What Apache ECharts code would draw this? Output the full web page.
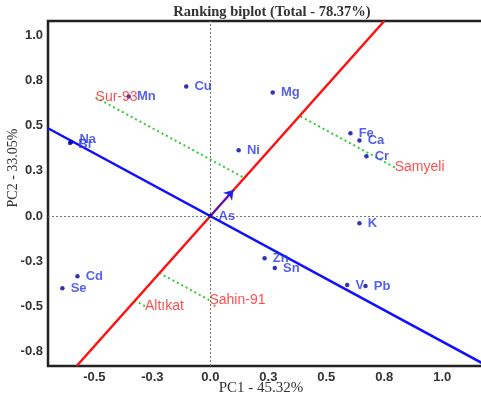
<!DOCTYPE html>
<html><head><meta charset="utf-8">
<script src="https://cdn.jsdelivr.net/npm/echarts@6/dist/echarts.min.js"></script>
<style>html,body{margin:0;padding:0;background:#fff}#c{width:481px;height:397px}</style>
</head><body><div id="c"></div>
<script>
// Element (tester) markers
const elementNames = ['Cu','Mn','Na','Bi','Ni','Mg','Fe','Ca','Cr','As','K','Zn','Sn','V','Pb','Cd','Se'];
const elementPC1 = [-0.104,-0.352,-0.600,-0.605,0.122,0.269,0.604,0.643,0.673,0.000,0.643,0.234,0.278,0.590,0.669,-0.573,-0.638];
const elementPC2 = [0.717,0.662,0.410,0.404,0.364,0.684,0.458,0.419,0.331,0.000,-0.040,-0.233,-0.288,-0.382,-0.387,-0.333,-0.399];
// Genotype markers
const genotypeNames = ['Sur-93','Samyeli','Altıkat','Şahin-91'];
const genotypePC1 = [-0.495,0.795,-0.282,-0.004];
const genotypePC2 = [0.657,0.270,-0.498,-0.465];
// Average-environment axis
const aecSlope = 1.44;
const aecArrowPC1 = 0.1;
// Axis ticks
const xTickValues = [-0.5,-0.25,0,0.25,0.5,0.75,1.0];
const xTickLabels = ['-0.5','-0.3','0.0','0.3','0.5','0.8','1.0'];
const yTickValues = [-0.75,-0.5,-0.25,0,0.25,0.5,0.75,1.0];
const yTickLabels = ['-0.8','-0.5','-0.3','0.0','0.3','0.5','0.8','1.0'];

const X_MIN=-0.70, X_MAX=1.18, Y_MIN=-0.83, Y_MAX=1.08;
const labelOffsets = {Na:[0,-3], Bi:[0,1]};

const chart = echarts.init(document.getElementById('c'));
const fmt = (vals, labs) => v => { const i = vals.findIndex(t => Math.abs(t - v) < 1e-9); return i >= 0 ? labs[i] : ''; };

const redLine = [[Y_MIN / aecSlope, Y_MIN], [Y_MAX / aecSlope, Y_MAX]];
const perp = -1 / aecSlope;
const blueLine = [[X_MIN, X_MIN * perp], [X_MAX, X_MAX * perp]];
const ux = 1 / Math.sqrt(1 + aecSlope * aecSlope), uy = aecSlope * ux;

const greenSeries = genotypeNames.map((n, i) => {
  const d = genotypePC1[i] * ux + genotypePC2[i] * uy;
  return {
    type: 'line', silent: true, symbol: 'none', z: 2,
    lineStyle: {color: '#33cc33', width: 2, type: [2, 3]},
    data: [[genotypePC1[i], genotypePC2[i]], [d * ux, d * uy]]
  };
});

chart.setOption({
  animation: false,
  title: {
    text: 'Ranking biplot (Total - 78.37%)', left: 267, top: 0, textAlign: 'center',
    textStyle: {fontFamily: 'Liberation Serif', fontWeight: 'bold', fontSize: 14.5, color: '#333'}
  },
  grid: {left: 48, top: 21, right: -3, bottom: 31, outerBoundsMode: 'none', containLabel: false,
    show: true, borderColor: '#222', borderWidth: 2.5},
  xAxis: {
    type: 'value', min: X_MIN, max: X_MAX,
    axisLine: {show: false}, axisTick: {show: false}, splitLine: {show: false},
    axisLabel: {customValues: xTickValues, formatter: fmt(xTickValues, xTickLabels), fontFamily: 'Liberation Sans', fontWeight: 'bold', fontSize: 13, color: '#333', margin: 5}
  },
  yAxis: {
    type: 'value', min: Y_MIN, max: Y_MAX,
    axisLine: {show: false}, axisTick: {show: false}, splitLine: {show: false},
    axisLabel: {customValues: yTickValues, formatter: fmt(yTickValues, yTickLabels), fontFamily: 'Liberation Sans', fontWeight: 'bold', fontSize: 13, color: '#333', margin: 5}
  },
  graphic: [{
    type: 'text', x: 13, y: 168, rotation: Math.PI / 2,
    style: {text: 'PC2 - 33.05%', font: '14px "Liberation Serif"', fill: '#333', textAlign: 'center', textVerticalAlign: 'middle'}
  }, {
    type: 'text', x: 261, y: 388,
    style: {text: 'PC1 - 45.32%', font: '15px "Liberation Serif"', fill: '#333', textAlign: 'center', textVerticalAlign: 'middle'}
  }],
  series: [
    {
      type: 'scatter', symbolSize: 0, data: [], silent: true,
      markLine: {
        silent: true, symbol: 'none', label: {show: false},
        lineStyle: {color: '#777', width: 1, type: [2, 2]},
        data: [{xAxis: 0}, {yAxis: 0}]
      }
    },
    ...greenSeries,
    {type: 'line', silent: true, symbol: 'none', z: 3, lineStyle: {color: '#1010ff', width: 2.5}, data: blueLine},
    {type: 'line', silent: true, symbol: 'none', z: 4, lineStyle: {color: '#ff1010', width: 2.5}, data: redLine,
      markLine: {
        silent: true, symbol: ['none', 'arrow'], symbolSize: 9, label: {show: false},
        lineStyle: {color: '#2020ee', width: 1.5, type: 'solid'},
        data: [[{coord: [0, 0]}, {coord: [aecArrowPC1, aecArrowPC1 * aecSlope]}]]
      }
    },
    {
      type: 'scatter', z: 5, symbolSize: 4.5, itemStyle: {color: '#0000aa'},
      data: elementNames.map((n, i) => ({
        value: [elementPC1[i], elementPC2[i]], name: n,
        label: {offset: labelOffsets[n] || [0, 0]}
      })),
      label: {show: true, position: 'right', distance: 6, formatter: p => p.name,
        fontFamily: 'Liberation Sans', fontWeight: 'bold', fontSize: 13, color: '#2a3ae8'}
    },
    {
      type: 'scatter', z: 5, symbolSize: 0,
      data: genotypeNames.map((n, i) => ({value: [genotypePC1[i], genotypePC2[i]], name: n})),
      label: {show: true, position: 'right', distance: 0, formatter: p => p.name,
        fontFamily: 'Liberation Sans', fontSize: 14, color: '#ff2222'}
    }
  ]
});
</script>
</body></html>
